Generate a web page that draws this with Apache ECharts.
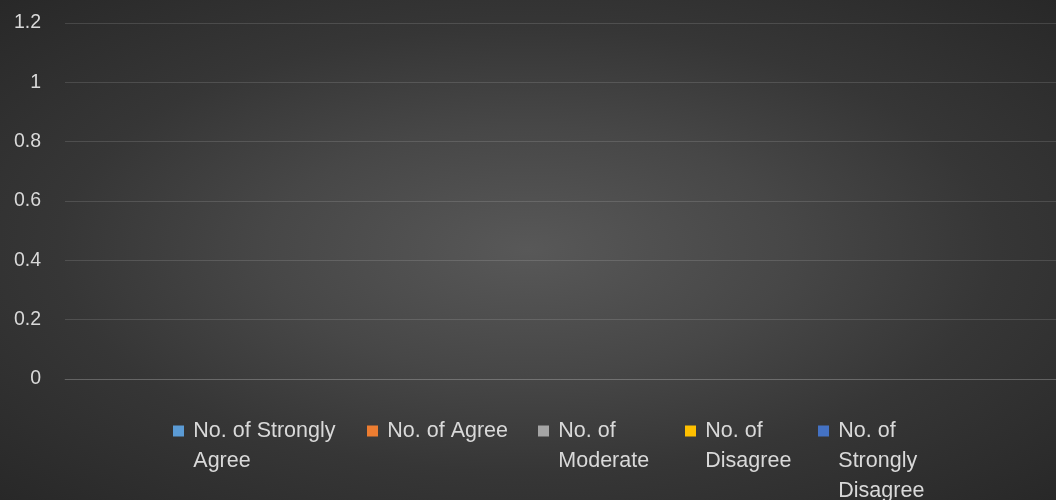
<!DOCTYPE html>
<html>
<head>
<meta charset="utf-8">
<script src="https://cdn.jsdelivr.net/npm/echarts@6/dist/echarts.min.js"></script>
<style>
html,body{margin:0;padding:0;}
#c{width:1056px;height:500px;background:radial-gradient(ellipse farthest-corner at 50% 50%, #585858 0%, #474747 35%, #363636 63%, #282828 100%);}
</style>
</head>
<body>
<div id="c"></div>
<script>
const categories = [];
const seriesNames = ["No. of Strongly Agree", "No. of Agree", "No. of Moderate", "No. of Disagree", "No. of Strongly Disagree"];
const legendLabels = ["No. of Strongly\nAgree", "No. of Agree", "No. of\nModerate", "No. of\nDisagree", "No. of\nStrongly\nDisagree"];
const seriesColors = ["#5B9BD5", "#ED7D31", "#A5A5A5", "#FFC000", "#4472C4"];
const strongAgree = [];
const agree = [];
const moderate = [];
const disagree = [];
const strongDisagree = [];
const yTicks = [0, 0.2, 0.4, 0.6, 0.8, 1, 1.2];

const values = [strongAgree, agree, moderate, disagree, strongDisagree];
const legendLeft = [173, 367, 538, 685, 818];
const LH = 30;
const iconCenter = 431;

const legends = seriesNames.map((n, i) => {
  const parts = legendLabels[i].split("\n");
  const lines = parts.length;
  // prepend blank lines so that the first text line is centred on the icon
  const text = "\n".repeat(lines - 1) + parts.map(p => "\u2009" + p).join("\n");
  const total = 2 * lines - 1;
  return {
    data: [n],
    left: legendLeft[i],
    top: iconCenter - total * LH / 2,
    padding: 0,
    itemWidth: 11,
    itemHeight: 11,
    icon: 'rect',
    selectedMode: false,
    formatter: () => text,
    textStyle: {
      color: '#d9d9d9',
      fontSize: 21.5,
      fontFamily: 'Liberation Sans',
      lineHeight: LH
    }
  };
});

const chart = echarts.init(document.getElementById('c'), null, {renderer: 'canvas'});
chart.setOption({
  backgroundColor: 'transparent',
  animation: false,
  color: seriesColors,
  grid: {left: 65, right: 0, top: 23, bottom: 121, containLabel: false},
  legend: legends,
  xAxis: {
    type: 'category',
    data: categories,
    axisLine: {show: true, lineStyle: {color: 'rgba(255,255,255,0.13)', width: 1}},
    axisTick: {show: false},
    axisLabel: {show: false}
  },
  yAxis: {
    type: 'value',
    min: yTicks[0],
    max: yTicks[yTicks.length - 1],
    interval: 0.2,
    axisLine: {show: false},
    axisTick: {show: false},
    axisLabel: {
      color: '#d9d9d9',
      fontSize: 19.5,
      fontFamily: 'Liberation Sans',
      margin: 24,
      formatter: v => String(+v.toFixed(1))
    },
    splitLine: {lineStyle: {color: 'rgba(255,255,255,0.13)', width: 1}}
  },
  series: seriesNames.map((n, i) => ({
    name: n,
    type: 'bar',
    data: values[i],
    itemStyle: {color: seriesColors[i]}
  }))
});
</script>
</body>
</html>
